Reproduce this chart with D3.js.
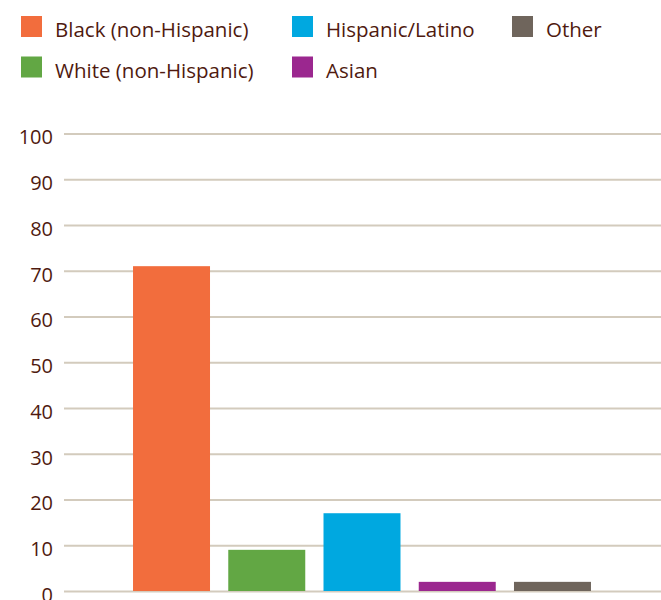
<!DOCTYPE html>
<html>
<head>
<meta charset="utf-8">
<script src="https://cdn.jsdelivr.net/npm/d3@7"></script>
<style>
  html, body { margin: 0; padding: 0; background: #fff; }
  svg { display: block; font-family: "Open Sans", Lato, sans-serif; }
</style>
</head>
<body>
<svg id="chart" width="661" height="600"></svg>
<script>
// Share of people by race/ethnicity (percent)
const categories = ["Black (non-Hispanic)", "White (non-Hispanic)", "Hispanic/Latino", "Asian", "Other"];
const values = [71, 9, 17, 2, 2];
const colors = ["#f26d3d", "#62a744", "#00a8e0", "#9b278f", "#6f655c"];
const yTicks = [0, 10, 20, 30, 40, 50, 60, 70, 80, 90, 100];
// Legend ordering (row-major, three columns)
const legendOrder = ["Black (non-Hispanic)", "Hispanic/Latino", "Other", "White (non-Hispanic)", "Asian"];

const textColor = "#4f1a0f";
const gridColor = "#d3cbbd";

const svg = d3.select("#chart");

const y = d3.scaleLinear().domain([0, 100]).range([591, 133.5]);
const x = d3.scaleBand().domain(categories).range([123.5, 600.5])
  .paddingInner(0.1916).paddingOuter(0.1);
const color = d3.scaleOrdinal().domain(categories).range(colors);

// Gridlines and tick labels via a left axis
const yAxis = d3.axisLeft(y).tickValues(yTicks).tickSize(-(661 - 64)).tickPadding(11);
const gAxis = svg.append("g").attr("transform", "translate(64,0)").call(yAxis);
gAxis.select(".domain").remove();
gAxis.selectAll(".tick line").attr("stroke", gridColor).attr("stroke-width", 2);
gAxis.selectAll(".tick text")
  .attr("fill", textColor)
  .attr("font-size", 20)
  .attr("dy", "0.52em")
  .attr("font-family", "\"Open Sans\", Lato, sans-serif");

// Bars
svg.append("g").selectAll("rect")
  .data(categories)
  .join("rect")
  .attr("x", d => x(d))
  .attr("width", x.bandwidth())
  .attr("y", (d, i) => y(values[i]))
  .attr("height", (d, i) => y(0) - y(values[i]))
  .attr("fill", d => color(d));

// Legend
const colX = [21, 292, 512];
const rowY = [16, 56.5];
const legend = svg.append("g").selectAll("g")
  .data(legendOrder)
  .join("g")
  .attr("transform", (d, i) => `translate(${colX[i % 3]},${rowY[Math.floor(i / 3)]})`);
legend.append("rect").attr("width", 21).attr("height", 21).attr("fill", d => color(d));
legend.append("text")
  .attr("x", 34).attr("y", 21.3)
  .attr("fill", textColor)
  .attr("font-size", 20.5)
  .text(d => d);
</script>
</body>
</html>
